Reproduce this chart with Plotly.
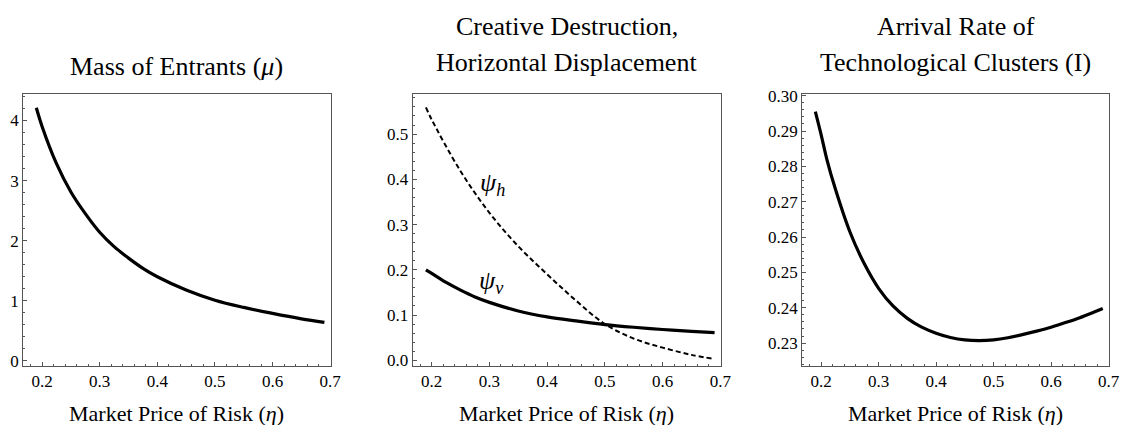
import plotly.graph_objects as go

# ---- data ----
eta_mu = [0.19, 0.2, 0.225, 0.25, 0.275, 0.3, 0.325, 0.35, 0.375, 0.4, 0.45, 0.5, 0.55, 0.6, 0.65, 0.69]
mu = [4.21, 3.90, 3.28, 2.81, 2.45, 2.14, 1.90, 1.71, 1.54, 1.40, 1.18, 1.01, 0.89, 0.79, 0.70, 0.64]

eta_h = [0.19, 0.2, 0.25, 0.3, 0.35, 0.4, 0.45, 0.5, 0.55, 0.6, 0.65, 0.69]
psi_h = [0.559, 0.532, 0.418, 0.326, 0.252, 0.190, 0.132, 0.080, 0.048, 0.028, 0.012, 0.003]

eta_v = [0.19, 0.2, 0.225, 0.25, 0.275, 0.3, 0.35, 0.4, 0.45, 0.5, 0.55, 0.6, 0.65, 0.69]
psi_v = [0.200, 0.192, 0.172, 0.155, 0.140, 0.128, 0.109, 0.096, 0.087, 0.079, 0.073, 0.068, 0.064, 0.061]

eta_i = [0.19, 0.2, 0.21, 0.225, 0.25, 0.275, 0.3, 0.325, 0.35, 0.375, 0.4, 0.425, 0.45, 0.475, 0.5,
         0.525, 0.55, 0.575, 0.6, 0.625, 0.65, 0.675, 0.69]
arrival = [0.2955, 0.2890, 0.2820, 0.2735, 0.2615, 0.2525, 0.2455, 0.2405, 0.2370, 0.2345, 0.2328, 0.2316,
           0.2309, 0.2307, 0.2309, 0.2315, 0.2324, 0.2334, 0.2345, 0.2358, 0.2372, 0.2388, 0.2398]

titles = [["Mass of Entrants (<i>μ</i>)"],
          ["Creative Destruction,", "Horizontal Displacement"],
          ["Arrival Rate of", "Technological Clusters (I)"]]
xlabel = "Market Price of Risk (<i>η</i>)"

# ---- layout ----
W, H = 1132, 425
FONT = "Liberation Serif, Times New Roman, serif"
px_dom = [(23.3, 334.0), (416.7, 728.0), (810.0, 1120.0)]
top_px, bot_px = 89.0, 369.0
ydom = [1 - bot_px / H, 1 - top_px / H]

fig = go.Figure()
solid = dict(color="black", width=3.2)
fig.add_trace(go.Scatter(x=eta_mu, y=mu, mode="lines", line=dict(**solid, shape="spline"),
                         xaxis="x", yaxis="y", showlegend=False))
fig.add_trace(go.Scatter(x=eta_h, y=psi_h, mode="lines",
                         line=dict(color="black", width=2, dash="5px,3px", shape="spline"),
                         xaxis="x2", yaxis="y2", showlegend=False))
fig.add_trace(go.Scatter(x=eta_v, y=psi_v, mode="lines", line=dict(**solid, shape="spline"),
                         xaxis="x2", yaxis="y2", showlegend=False))
fig.add_trace(go.Scatter(x=eta_i, y=arrival, mode="lines", line=dict(**solid, shape="spline"),
                         xaxis="x3", yaxis="y3", showlegend=False))

frame_col = "#555555"
def xax(i):
    a, b = px_dom[i]
    return dict(domain=[a / W, b / W], range=[0.167, 0.701], anchor="y" if i == 0 else f"y{i+1}",
                showline=True, linecolor=frame_col, linewidth=1, mirror=True,
                showgrid=False, zeroline=False, ticks="inside", ticklen=4, tickcolor=frame_col,
                tickvals=[0.2, 0.3, 0.4, 0.5, 0.6, 0.7], tickformat=".1f",
                tickfont=dict(family=FONT, size=17, color="black"),
                minor=dict(dtick=0.02, tick0=0.0, ticks="inside", ticklen=2, tickcolor=frame_col, showgrid=False))

def yax(i, rng, dtick, mdtick, fmt):
    return dict(domain=ydom, range=rng, anchor="x" if i == 0 else f"x{i+1}",
                showline=True, linecolor=frame_col, linewidth=1, mirror=True,
                showgrid=False, zeroline=False, ticks="inside", ticklen=4, tickcolor=frame_col,
                dtick=dtick, tick0=0, tickformat=fmt,
                tickfont=dict(family=FONT, size=17, color="black"),
                minor=dict(dtick=mdtick, tick0=0, ticks="inside", ticklen=2, tickcolor=frame_col, showgrid=False))

annotations = []
title_y = [[60], [19, 56], [19, 56]]
for i in range(3):
    a, b = px_dom[i]
    cx = (a + b) / 2 / W
    for line, ypx in zip(titles[i], title_y[i]):
        annotations.append(dict(text=line, x=cx, y=1 - ypx / H, xref="paper", yref="paper",
                                xanchor="center", yanchor="middle", showarrow=False,
                                font=dict(family=FONT, size=26, color="black")))
    annotations.append(dict(text=xlabel, x=cx, y=1 - 418 / H, xref="paper", yref="paper",
                            xanchor="center", yanchor="middle", showarrow=False,
                            font=dict(family=FONT, size=22, color="black")))

annotations.append(dict(text="<i>ψ<sub>h</sub></i>", x=0.306, y=0.39, xref="x2", yref="y2",
                        showarrow=False, font=dict(family=FONT, size=26, color="black")))
annotations.append(dict(text="<i>ψ<sub>v</sub></i>", x=0.304, y=0.172, xref="x2", yref="y2",
                        showarrow=False, font=dict(family=FONT, size=26, color="black")))

fig.update_layout(
    width=W, height=H, margin=dict(l=0, r=0, t=0, b=0),
    plot_bgcolor="white", paper_bgcolor="white",
    xaxis=xax(0), xaxis2=xax(1), xaxis3=xax(2),
    yaxis=yax(0, [-0.08, 4.435], 1, 0.2, "d"),
    yaxis2=yax(1, [-0.012, 0.588], 0.1, 0.02, ".1f"),
    yaxis3=yax(2, [0.2236, 0.3004], 0.01, 0.002, ".2f"),
    annotations=annotations,
)

fig.write_html("out.html", config={"displayModeBar": False},
               post_script="document.body.style.margin='0';document.body.style.overflow='hidden';")
